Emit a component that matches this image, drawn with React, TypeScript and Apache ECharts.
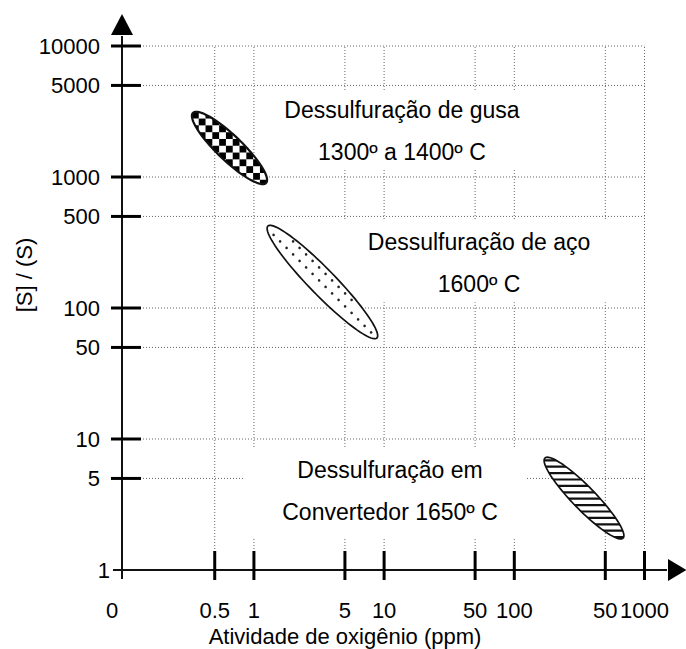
import React, { useEffect, useRef } from 'react';
import * as echarts from 'echarts';

// ---------------- data ----------------
const xTickValues = [0.5, 1, 5, 10, 50, 100, 500, 1000];
const xTickLabels = ['0.5', '1', '5', '10', '50', '100', '50', '1000'];
const yTickValues = [5, 10, 50, 100, 500, 1000, 5000, 10000];
const yTickLabels = ['5', '10', '50', '100', '500', '1000', '5000', '10000'];
const xOrigin = 0.097;
const xOriginLabel = '0';
const yOrigin = 1;
const yOriginLabel = '1';
const xMax = 1000;
const yMax = 10000;

// each region: major-axis end points [x1, y1, x2, y2] in data units
const regionEllipses = [
  [0.34, 3085, 1.24, 900],
  [1.28, 422, 8.8, 59],
  [172, 7.16, 684, 1.75],
];
const regionLines = [
  ['Dessulfuração de gusa', '1300º a 1400º C'],
  ['Dessulfuração de aço', '1600º C'],
  ['Dessulfuração em', 'Convertedor 1650º C'],
];
const regionLabelAt = [
  [13.7, 2244],
  [53.6, 219],
  [11.1, 4.01],
];
const regionBoxes = [
  [1.33, 4775, 381, 1091],
  [3.84, 477, 923, 107],
  [0.855, 9.0, 121, 1.69],
];

// ---------------- styles ----------------
const FONT = '"Liberation Sans", Arial, Helvetica, sans-serif';
const ellipseWidths = [25, 26, 23];
const ellipsePatterns = ['checker', 'dots', 'stripes'];
const INK = '#111';

type P = number[];

function ellipsePoly(cx: number, cy: number, a: number, b: number, ang: number, n = 96): P[] {
  const pts: P[] = [];
  const c = Math.cos(ang), s = Math.sin(ang);
  for (let i = 0; i < n; i++) {
    const t = (2 * Math.PI * i) / n;
    const ex = a * Math.cos(t), ey = b * Math.sin(t);
    pts.push([cx + ex * c - ey * s, cy + ex * s + ey * c]);
  }
  return pts;
}

function clipConvex(subject: P[], clip: P[]): P[] {
  let area = 0;
  for (let i = 0; i < clip.length; i++) {
    const a = clip[i], b = clip[(i + 1) % clip.length];
    area += a[0] * b[1] - b[0] * a[1];
  }
  const sg = area > 0 ? 1 : -1;
  let output = subject;
  for (let i = 0; i < clip.length; i++) {
    if (!output.length) break;
    const A = clip[i], B = clip[(i + 1) % clip.length];
    const input = output;
    output = [];
    const inside = (p: P) => sg * ((B[0] - A[0]) * (p[1] - A[1]) - (B[1] - A[1]) * (p[0] - A[0])) >= 0;
    const inter = (p: P, q: P): P => {
      const x1 = p[0], y1 = p[1], x2 = q[0], y2 = q[1];
      const x3 = A[0], y3 = A[1], x4 = B[0], y4 = B[1];
      const den = (x1 - x2) * (y3 - y4) - (y1 - y2) * (x3 - x4);
      const t = den === 0 ? 0 : ((x1 - x3) * (y3 - y4) - (y1 - y3) * (x3 - x4)) / den;
      return [x1 + t * (x2 - x1), y1 + t * (y2 - y1)];
    };
    for (let j = 0; j < input.length; j++) {
      const p = input[j], q = input[(j + 1) % input.length];
      const pin = inside(p), qin = inside(q);
      if (pin) {
        output.push(p);
        if (!qin) output.push(inter(p, q));
      } else if (qin) {
        output.push(inter(p, q));
      }
    }
  }
  return output;
}

function renderEllipse(params: any, api: any) {
  const idx = params.dataIndex;
  const p1 = api.coord([api.value(0), api.value(1)]);
  const p2 = api.coord([api.value(2), api.value(3)]);
  const cx = (p1[0] + p2[0]) / 2, cy = (p1[1] + p2[1]) / 2;
  const dx = p2[0] - p1[0], dy = p2[1] - p1[1];
  const a = Math.sqrt(dx * dx + dy * dy) / 2;
  const b = ellipseWidths[idx] / 2;
  const ang = Math.atan2(dy, dx);
  const poly = ellipsePoly(cx, cy, a, b, ang);
  let minX = Infinity, maxX = -Infinity, minY = Infinity, maxY = -Infinity;
  poly.forEach((p) => {
    minX = Math.min(minX, p[0]); maxX = Math.max(maxX, p[0]);
    minY = Math.min(minY, p[1]); maxY = Math.max(maxY, p[1]);
  });
  const children: any[] = [
    { type: 'polygon', shape: { points: poly }, style: { fill: '#fff', stroke: 'none' } },
  ];
  const pat = ellipsePatterns[idx];
  if (pat === 'checker') {
    const cell = 6.8;
    for (let i = 0; minX + i * cell < maxX; i++) {
      for (let j = 0; minY + j * cell < maxY; j++) {
        if ((i + j) % 2 !== 0) continue;
        const x0 = minX + i * cell, y0 = minY + j * cell;
        const sq: P[] = [[x0, y0], [x0 + cell, y0], [x0 + cell, y0 + cell], [x0, y0 + cell]];
        const cl = clipConvex(sq, poly);
        if (cl.length >= 3) {
          children.push({ type: 'polygon', shape: { points: cl }, style: { fill: '#000' } });
        }
      }
    }
  } else if (pat === 'stripes') {
    const period = 6.4, th = 2.2;
    for (let y0 = minY + 2; y0 < maxY; y0 += period) {
      const rect: P[] = [[minX - 2, y0], [maxX + 2, y0], [maxX + 2, y0 + th], [minX - 2, y0 + th]];
      const cl = clipConvex(rect, poly);
      if (cl.length >= 3) {
        children.push({ type: 'polygon', shape: { points: cl }, style: { fill: '#111' } });
      }
    }
  } else if (pat === 'dots') {
    const sx = 13, sy = 6.5;
    const c = Math.cos(ang), s = Math.sin(ang);
    let row = 0;
    for (let y0 = minY + 3; y0 < maxY; y0 += sy, row++) {
      for (let x0 = minX + (row % 2 ? sx / 2 : 0); x0 < maxX; x0 += sx) {
        const ux = x0 - cx, uy = y0 - cy;
        const u = (ux * c + uy * s) / (a - 4);
        const v = (-ux * s + uy * c) / (b - 3);
        if (u * u + v * v < 1) {
          children.push({ type: 'circle', shape: { cx: x0, cy: y0, r: 1.3 }, style: { fill: '#222' } });
        }
      }
    }
  }
  children.push({
    type: 'polygon',
    shape: { points: poly },
    style: { fill: 'none', stroke: '#111', lineWidth: idx === 0 ? 2.2 : 1.7 },
  });
  return { type: 'group', children };
}

function txt(x: number, y: number, text: string, size: number, align: string, valign = 'middle', rotation = 0) {
  return {
    type: 'text',
    x,
    y,
    rotation,
    style: {
      text,
      fill: '#000',
      fontSize: size,
      fontFamily: FONT,
      textAlign: align,
      align,
      textVerticalAlign: valign,
      verticalAlign: valign,
    },
  };
}

export default function App() {
  const ref = useRef<HTMLDivElement>(null);
  useEffect(() => {
    if (!ref.current) return;
    const chart = echarts.init(ref.current, undefined, { renderer: 'svg' });

    const hidden = {
      axisLine: { show: false },
      axisTick: { show: false },
      axisLabel: { show: false },
      splitLine: { show: false },
    };

    const option: any = {
      animation: false,
      backgroundColor: '#fff',
      grid: { left: 122, right: 41.5, top: 46, bottom: 79, containLabel: false },
      xAxis: { type: 'log', logBase: 10, min: xOrigin, max: xMax, ...hidden },
      yAxis: { type: 'log', logBase: 10, min: yOrigin, max: yMax, ...hidden },
      graphic: [
        txt(24, 275, '[S] / (S)', 22, 'center', 'middle', Math.PI / 2),
        txt(345, 636, 'Atividade de oxigênio (ppm)', 22, 'center'),
      ],
      series: [
        // horizontal grid lines
        {
          type: 'custom',
          z: 1,
          clip: false,
          silent: true,
          data: yTickValues.map((v) => [xOrigin, v]),
          renderItem: (params: any, api: any) => {
            const a = api.coord([xOrigin, api.value(1)]);
            const b = api.coord([xMax, api.value(1)]);
            return {
              type: 'line',
              shape: { x1: a[0], y1: a[1], x2: b[0], y2: b[1] },
              style: { stroke: '#666', lineWidth: 1, lineDash: [1, 2] },
            };
          },
        },
        // vertical grid lines
        {
          type: 'custom',
          z: 1,
          clip: false,
          silent: true,
          data: xTickValues.map((v) => [v, yOrigin]),
          renderItem: (params: any, api: any) => {
            const a = api.coord([api.value(0), yOrigin]);
            const b = api.coord([api.value(0), yMax]);
            return {
              type: 'line',
              shape: { x1: a[0], y1: a[1], x2: b[0], y2: b[1] },
              style: { stroke: '#666', lineWidth: 1, lineDash: [1, 2] },
            };
          },
        },
        // white boxes behind region labels
        {
          type: 'custom',
          z: 2,
          clip: false,
          silent: true,
          data: regionBoxes,
          renderItem: (params: any, api: any) => {
            const a = api.coord([api.value(0), api.value(1)]);
            const b = api.coord([api.value(2), api.value(3)]);
            return {
              type: 'rect',
              shape: {
                x: Math.min(a[0], b[0]),
                y: Math.min(a[1], b[1]) + 2,
                width: Math.abs(b[0] - a[0]),
                height: Math.abs(b[1] - a[1]) - 4,
              },
              style: { fill: '#fff' },
            };
          },
        },
        // region ellipses
        {
          type: 'custom',
          z: 3,
          clip: false,
          silent: true,
          data: regionEllipses,
          renderItem: renderEllipse,
        },
        // axes with arrows
        {
          type: 'custom',
          z: 4,
          clip: false,
          silent: true,
          data: [[xOrigin, yOrigin]],
          renderItem: (params: any, api: any) => {
            const o = api.coord([xOrigin, yOrigin]);
            const top = api.coord([xOrigin, yMax]);
            const right = api.coord([xMax, yOrigin]);
            const yBase = top[1] - 11;
            const yTip = top[1] - 32;
            const xBase = right[0] + 23.5;
            const xTip = right[0] + 42;
            return {
              type: 'group',
              children: [
                { type: 'line', shape: { x1: o[0], y1: o[1] + 9, x2: o[0], y2: yBase + 1 }, style: { stroke: INK, lineWidth: 2 } },
                { type: 'polygon', shape: { points: [[o[0], yTip], [o[0] + 11, yBase], [o[0] - 11, yBase]] }, style: { fill: '#000' } },
                { type: 'line', shape: { x1: o[0] - 9, y1: o[1], x2: xBase - 1, y2: o[1] }, style: { stroke: INK, lineWidth: 2 } },
                { type: 'polygon', shape: { points: [[xTip, o[1]], [xBase, o[1] - 11], [xBase, o[1] + 11]] }, style: { fill: '#000' } },
              ],
            };
          },
        },
        // y ticks + labels
        {
          type: 'custom',
          z: 5,
          clip: false,
          silent: true,
          data: yTickValues.map((v) => [xOrigin, v]),
          renderItem: (params: any, api: any) => {
            const p = api.coord([xOrigin, api.value(1)]);
            return {
              type: 'group',
              children: [
                { type: 'line', shape: { x1: p[0] - 11, y1: p[1], x2: p[0] + 19, y2: p[1] }, style: { stroke: '#000', lineWidth: 3 } },
                txt(p[0] - 22, p[1], yTickLabels[params.dataIndex], 22, 'right'),
              ],
            };
          },
        },
        // x ticks + labels
        {
          type: 'custom',
          z: 5,
          clip: false,
          silent: true,
          data: xTickValues.map((v) => [v, yOrigin]),
          renderItem: (params: any, api: any) => {
            const p = api.coord([api.value(0), yOrigin]);
            return {
              type: 'group',
              children: [
                { type: 'line', shape: { x1: p[0], y1: p[1] - 19, x2: p[0], y2: p[1] + 10 }, style: { stroke: '#000', lineWidth: 3 } },
                txt(p[0], p[1] + 40, xTickLabels[params.dataIndex], 22, 'center'),
              ],
            };
          },
        },
        // origin labels
        {
          type: 'custom',
          z: 5,
          clip: false,
          silent: true,
          data: [[xOrigin, yOrigin]],
          renderItem: (params: any, api: any) => {
            const o = api.coord([xOrigin, yOrigin]);
            return {
              type: 'group',
              children: [
                txt(o[0] - 12, o[1], yOriginLabel, 22, 'right'),
                txt(o[0] - 10, o[1] + 40, xOriginLabel, 22, 'center'),
              ],
            };
          },
        },
        // region labels
        {
          type: 'custom',
          z: 6,
          clip: false,
          silent: true,
          data: regionLabelAt,
          renderItem: (params: any, api: any) => {
            const p = api.coord([api.value(0), api.value(1)]);
            const lines = regionLines[params.dataIndex];
            return {
              type: 'group',
              children: [
                txt(p[0], p[1] - 21, lines[0], 23, 'center'),
                txt(p[0], p[1] + 21, lines[1], 23, 'center'),
              ],
            };
          },
        },
      ],
    };
    chart.setOption(option);
    return () => chart.dispose();
  }, []);
  return (
    <div
      ref={ref}
      style={{ position: 'fixed', left: 0, top: 0, width: 686, height: 649, background: '#fff' }}
    />
  );
}
